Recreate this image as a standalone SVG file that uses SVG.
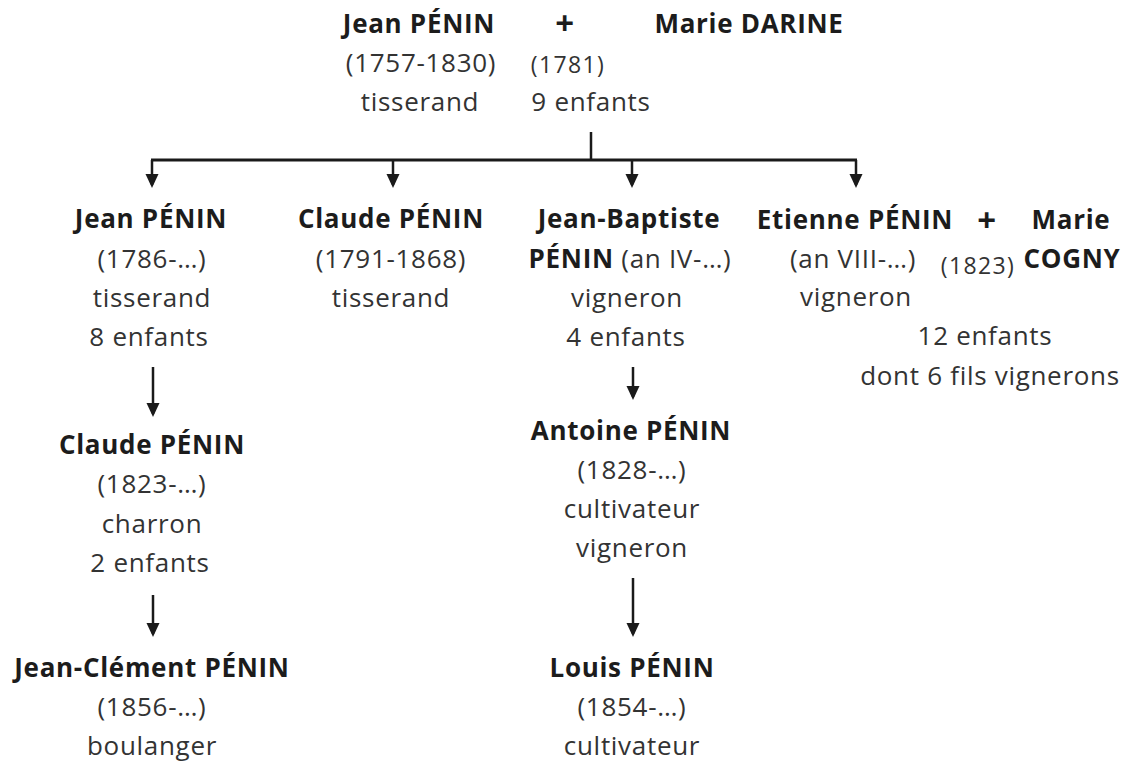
<svg xmlns="http://www.w3.org/2000/svg" width="1134" height="767" viewBox="0 0 1134 767">
  <style>
    text { font-family: "Open Sans", "Noto Sans", "Liberation Sans", sans-serif; font-size: 26px; letter-spacing: 0.7px; text-anchor: middle; fill: #333333; }
    .b { font-weight: 700; fill: #1c1c1c; }
    .s { font-size: 23px; letter-spacing: 1.4px; }
    .plus { font-size: 33px; font-weight: 700; fill: #1c1c1c; }
    .link { fill: none; stroke: #1a1a1a; stroke-width: 2.5; }
    .bar { fill: none; stroke: #1a1a1a; stroke-width: 3; }
  </style>
  <defs>
    <marker id="arrow" markerUnits="userSpaceOnUse" markerWidth="14" markerHeight="14" viewBox="0 0 14 14" refX="11" refY="7" orient="auto">
      <path d="M0,0.5 L14,7 L0,13.5 z" fill="#1a1a1a"/>
    </marker>
  </defs>
  <rect width="1134" height="767" fill="#ffffff"/>

  <!-- connectors -->
  <g id="connectors">
    <path class="link" d="M591,132 V160"/>
    <path class="bar" d="M151,160 H857"/>
    <path class="link" d="M152,160 V185" marker-end="url(#arrow)"/>
    <path class="link" d="M393,160 V185" marker-end="url(#arrow)"/>
    <path class="link" d="M632,160 V185" marker-end="url(#arrow)"/>
    <path class="link" d="M856,160 V185" marker-end="url(#arrow)"/>
    <path class="link" d="M153,367 V414" marker-end="url(#arrow)"/>
    <path class="link" d="M153,595 V634" marker-end="url(#arrow)"/>
    <path class="link" d="M633,367 V397" marker-end="url(#arrow)"/>
    <path class="link" d="M633,578 V634" marker-end="url(#arrow)"/>
  </g>

  <!-- first couple -->
  <g id="jean-penin-1757">
    <text class="b" x="419" y="33">Jean PÉNIN</text>
    <text x="421" y="72">(1757-1830)</text>
    <text x="420" y="111">tisserand</text>
  </g>
  <g id="union-1781">
    <text class="plus" x="565" y="35">+</text>
    <text class="s" x="568" y="73">(1781)</text>
    <text x="591" y="111">9 enfants</text>
  </g>
  <g id="marie-darine">
    <text class="b" x="749" y="33">Marie DARINE</text>
  </g>

  <!-- children -->
  <g id="jean-penin-1786">
    <text class="b" x="151" y="228">Jean PÉNIN</text>
    <text x="152" y="268">(1786-…)</text>
    <text x="152" y="307">tisserand</text>
    <text x="149" y="346">8 enfants</text>
  </g>
  <g id="claude-penin-1791">
    <text class="b" x="391" y="228">Claude PÉNIN</text>
    <text x="391" y="268">(1791-1868)</text>
    <text x="391" y="307">tisserand</text>
  </g>
  <g id="jean-baptiste-penin">
    <text class="b" x="629" y="228">Jean-Baptiste</text>
    <text x="630" y="268"><tspan class="b">PÉNIN</tspan> (an IV-…)</text>
    <text x="627" y="307">vigneron</text>
    <text x="626" y="346">4 enfants</text>
  </g>
  <g id="etienne-penin">
    <text class="b" x="855" y="229">Etienne PÉNIN</text>
    <text x="853" y="268">(an VIII-…)</text>
    <text x="856" y="306">vigneron</text>
  </g>
  <g id="union-1823">
    <text class="plus" x="987" y="232">+</text>
    <text class="s" x="978" y="274">(1823)</text>
    <text x="985" y="345">12 enfants</text>
    <text x="990" y="385">dont 6 fils vignerons</text>
  </g>
  <g id="marie-cogny">
    <text class="b" x="1071" y="229">Marie</text>
    <text class="b" x="1072" y="268">COGNY</text>
  </g>

  <!-- grandchildren -->
  <g id="claude-penin-1823">
    <text class="b" x="152" y="454">Claude PÉNIN</text>
    <text x="152" y="493">(1823-…)</text>
    <text x="152" y="533">charron</text>
    <text x="150" y="572">2 enfants</text>
  </g>
  <g id="antoine-penin">
    <text class="b" x="631" y="440">Antoine PÉNIN</text>
    <text x="632" y="479">(1828-…)</text>
    <text x="632" y="518">cultivateur</text>
    <text x="632" y="557">vigneron</text>
  </g>

  <!-- great-grandchildren -->
  <g id="jean-clement-penin">
    <text class="b" x="152" y="677">Jean-Clément PÉNIN</text>
    <text x="152" y="716">(1856-…)</text>
    <text x="152" y="755">boulanger</text>
  </g>
  <g id="louis-penin">
    <text class="b" x="632" y="677">Louis PÉNIN</text>
    <text x="632" y="716">(1854-…)</text>
    <text x="632" y="755">cultivateur</text>
  </g>
</svg>
